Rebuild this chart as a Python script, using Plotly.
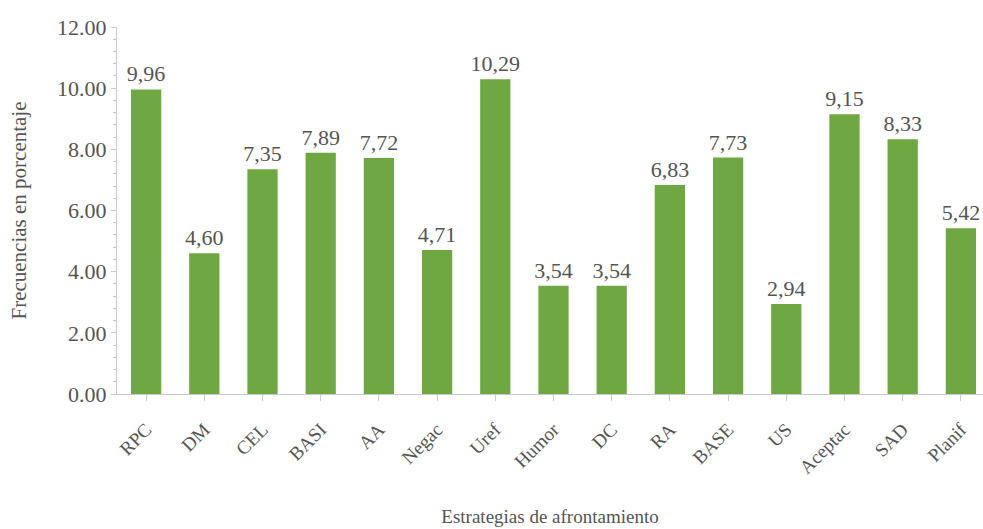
import plotly.graph_objects as go

categories = ["RPC", "DM", "CEL", "BASI", "AA", "Negac", "Uref", "Humor", "DC",
              "RA", "BASE", "US", "Aceptac", "SAD", "Planif"]
values = [9.96, 4.60, 7.35, 7.89, 7.72, 4.71, 10.29, 3.54, 3.54,
          6.83, 7.73, 2.94, 9.15, 8.33, 5.42]
labels = [f"{v:.2f}".replace(".", ",") for v in values]
y_ticks = [0, 2, 4, 6, 8, 10, 12]
y_tick_text = [f"{t:.2f}" for t in y_ticks]

font_family = "'Liberation Serif', 'Times New Roman', Times, serif"
text_color = "#555555"
axis_color = "#c9c9d6"

fig = go.Figure(go.Bar(
    x=list(range(len(categories))),
    y=values,
    text=labels,
    textposition="outside",
    constraintext="none",
    textfont=dict(family=font_family, size=22, color=text_color),
    marker=dict(color="#6FA843", line=dict(width=0)),
    width=0.52,
    cliponaxis=False,
))

fig.update_layout(
    width=983, height=529,
    margin=dict(l=117, r=0, t=27, b=135),
    paper_bgcolor="white", plot_bgcolor="white",
    showlegend=False,
    font=dict(family=font_family, color=text_color),
    xaxis=dict(
        range=[-0.5, 14.38],
        tickmode="array",
        tickvals=list(range(len(categories))),
        ticktext=categories,
        tickangle=-45,
        tickfont=dict(family=font_family, size=19, color=text_color),
        ticklabelstandoff=10,
        showgrid=False, zeroline=False,
        showline=True, linecolor=axis_color, linewidth=1,
        ticks="outside", ticklen=6, tickcolor=axis_color,
        minor=dict(ticks="outside", ticklen=3, tickcolor=axis_color, nticks=3),
        title=dict(text="Estrategias de afrontamiento",
                   font=dict(family=font_family, size=19, color=text_color),
                   standoff=32),
    ),
    yaxis=dict(
        range=[0, 12],
        tickmode="array",
        tickvals=y_ticks,
        ticktext=y_tick_text,
        tickfont=dict(family=font_family, size=22, color=text_color),
        showgrid=False, zeroline=False,
        showline=True, linecolor=axis_color, linewidth=1,
        ticks="outside", ticklen=5, tickcolor=axis_color,
        minor=dict(ticks="outside", ticklen=3, tickcolor=axis_color, dtick=0.4),
        title=dict(text="Frecuencias en porcentaje",
                   font=dict(family=font_family, size=21, color=text_color),
                   standoff=24),
    ),
)

fig.write_html("out.html")
